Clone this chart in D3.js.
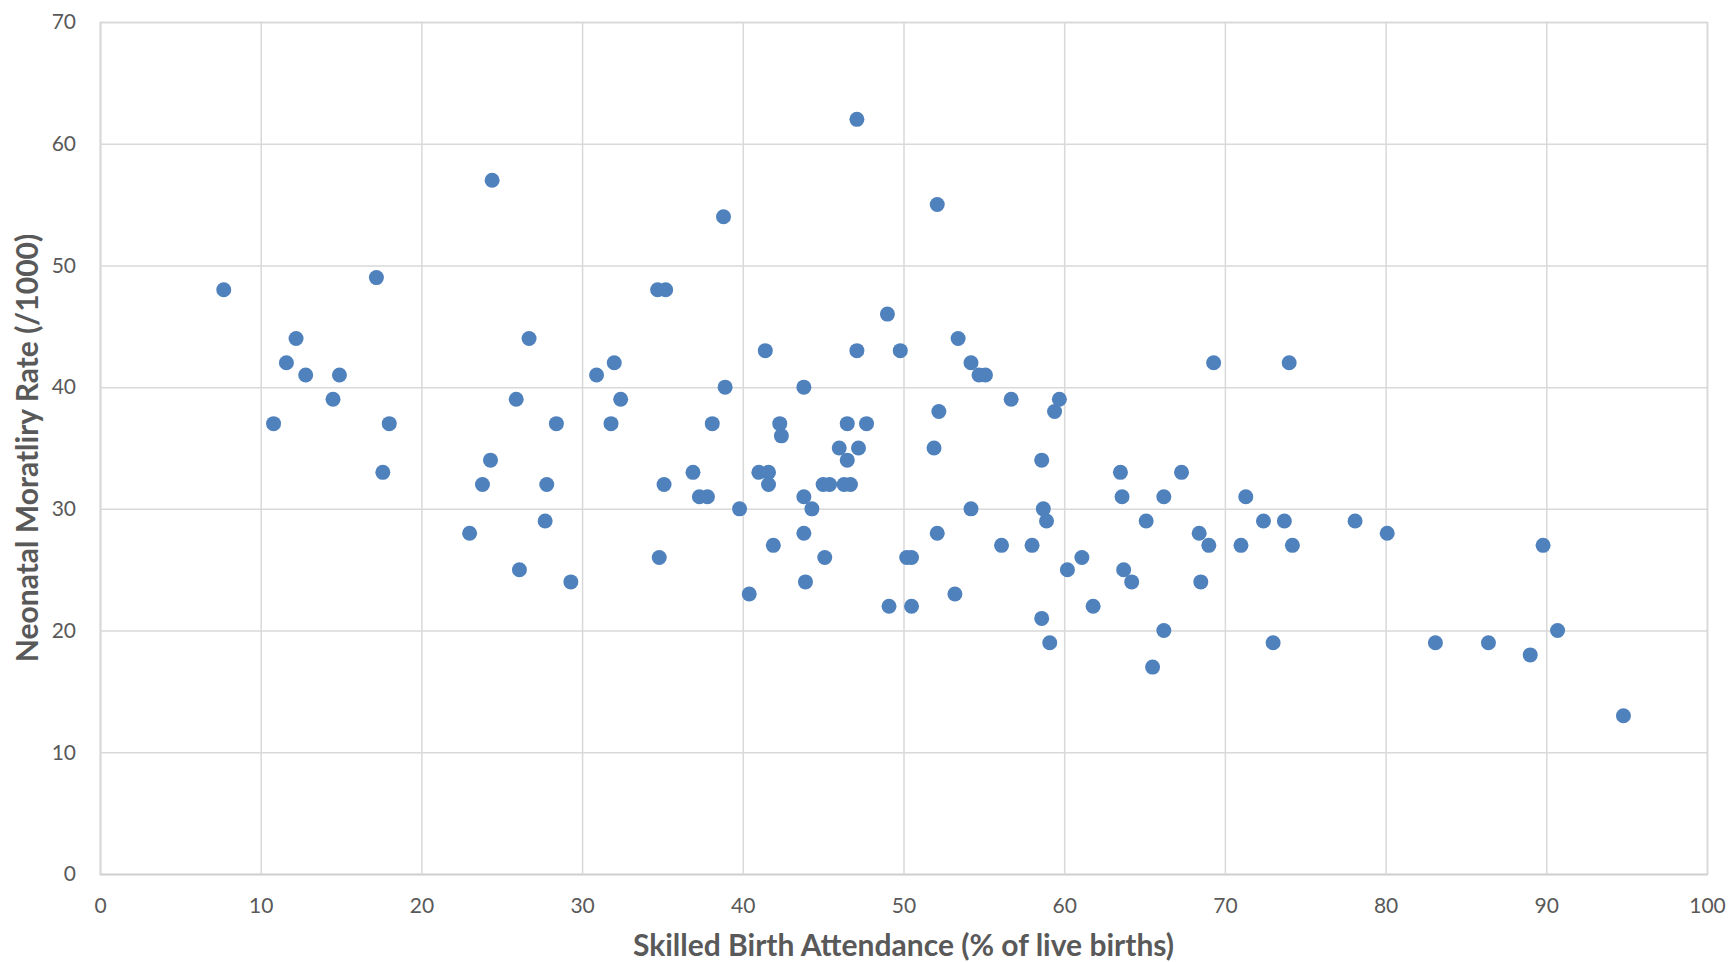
<!DOCTYPE html>
<html>
<head>
<meta charset="utf-8">
<script src="https://cdn.jsdelivr.net/npm/d3@7"></script>
<style>
  body { margin: 0; background: #fff; }
  text { font-family: Lato, "Open Sans", sans-serif; fill: #595959; }
</style>
</head>
<body>
<script>
// skilled birth attendance (% of live births)
const skilledBirth = [
  7.7, 10.8, 11.6, 12.2, 12.8, 14.5, 14.9, 17.2, 17.6, 18.0,
  23.0, 23.8, 24.3, 24.4, 25.9, 26.1, 26.7, 27.7, 27.8, 28.4,
  29.3, 30.9, 31.8, 32.0, 32.4, 34.7, 35.2, 34.8, 35.1, 36.9,
  37.3, 37.8, 38.1, 38.8, 38.9, 39.8, 40.4, 41.0, 41.6, 41.4,
  41.6, 41.9, 42.3, 42.4, 43.8, 43.8, 43.8, 43.9, 44.3, 45.1,
  45.0, 45.4, 46.0, 46.3, 46.5, 46.5, 46.7, 47.1, 47.1, 47.2,
  47.7, 49.0, 49.1, 49.8, 50.2, 50.5, 50.5, 52.1, 51.9, 52.2,
  52.1, 53.2, 53.4, 54.2, 54.2, 54.7, 55.1, 56.1, 56.7, 58.0,
  58.6, 58.6, 58.7, 58.9, 59.1, 59.4, 59.7, 60.2, 61.1, 61.8,
  63.5, 63.6, 63.7, 64.2, 65.1, 65.5, 66.2, 66.2, 67.3, 68.4,
  68.5, 69.0, 69.3, 71.0, 71.3, 72.4, 73.0, 73.7, 74.0, 74.2,
  78.1, 80.1, 83.1, 86.4, 89.0, 89.8, 90.7, 94.8
];
// neonatal mortality rate (/1000), same order
const neonatalMortality = [
  48, 37, 42, 44, 41, 39, 41, 49, 33, 37,
  28, 32, 34, 57, 39, 25, 44, 29, 32, 37,
  24, 41, 37, 42, 39, 48, 48, 26, 32, 33,
  31, 31, 37, 54, 40, 30, 23, 33, 33, 43,
  32, 27, 37, 36, 40, 31, 28, 24, 30, 26,
  32, 32, 35, 32, 37, 34, 32, 62, 43, 35,
  37, 46, 22, 43, 26, 26, 22, 55, 35, 38,
  28, 23, 44, 42, 30, 41, 41, 27, 39, 27,
  34, 21, 30, 29, 19, 38, 39, 25, 26, 22,
  33, 31, 25, 24, 29, 17, 20, 31, 33, 28,
  24, 27, 42, 27, 31, 29, 19, 29, 42, 27,
  29, 28, 19, 19, 18, 27, 20, 13
];
const xTicks = [0, 10, 20, 30, 40, 50, 60, 70, 80, 90, 100];
const yTicks = [0, 10, 20, 30, 40, 50, 60, 70];
const xTitle = "Skilled Birth Attendance (% of live births)";
const yTitle = "Neonatal Moratliry Rate (/1000)";

const width = 1729;
const height = 962;
const margin = {top: 22, right: 22, bottom: 88, left: 100};
const innerWidth = width - margin.left - margin.right;
const innerHeight = height - margin.top - margin.bottom;

const points = skilledBirth.map((d, i) => ({x: d, y: neonatalMortality[i]}));

let svg = d3.select("body").append("svg").attr("width", width).attr("height", height);
let g = svg.append("g").attr("transform", "translate(" + margin.left + "," + margin.top + ")");

let xScale = d3.scaleLinear().domain([0, 100]).range([0, innerWidth]);
let yScale = d3.scaleLinear().domain([0, 70]).range([innerHeight, 0]);

// gridlines come from the axis ticks
let yAxis = g.append("g")
  .call(d3.axisLeft(yScale).tickValues(yTicks).tickSize(-innerWidth).tickPadding(24));
let xAxis = g.append("g")
  .attr("transform", "translate(0," + innerHeight + ")")
  .call(d3.axisBottom(xScale).tickValues(xTicks).tickSize(-innerHeight).tickPadding(24));

[xAxis, yAxis].forEach(a => {
  a.select(".domain").attr("stroke", "#d0d0d0").attr("stroke-width", 1.5);
  a.selectAll(".tick line").attr("stroke", "#d9d9d9").attr("stroke-width", 1.5);
  a.selectAll(".tick text").style("font-family", "Lato, sans-serif").style("font-size", "21px").attr("fill", "#595959");
});

g.append("g").selectAll("circle")
  .data(points)
  .join("circle")
  .attr("cx", d => xScale(d.x))
  .attr("cy", d => yScale(d.y))
  .attr("r", 7.5)
  .attr("fill", "#4f81bd");

svg.append("text")
  .text(xTitle)
  .attr("x", margin.left + innerWidth / 2)
  .attr("y", 956)
  .attr("text-anchor", "middle")
  .style("font-size", "30px")
  .style("font-weight", "bold");

svg.append("text")
  .text(yTitle)
  .attr("text-anchor", "middle")
  .attr("transform", "translate(38," + (margin.top + innerHeight / 2) + ") rotate(-90)")
  .style("font-size", "30px")
  .style("font-weight", "bold");
</script>
</body>
</html>
